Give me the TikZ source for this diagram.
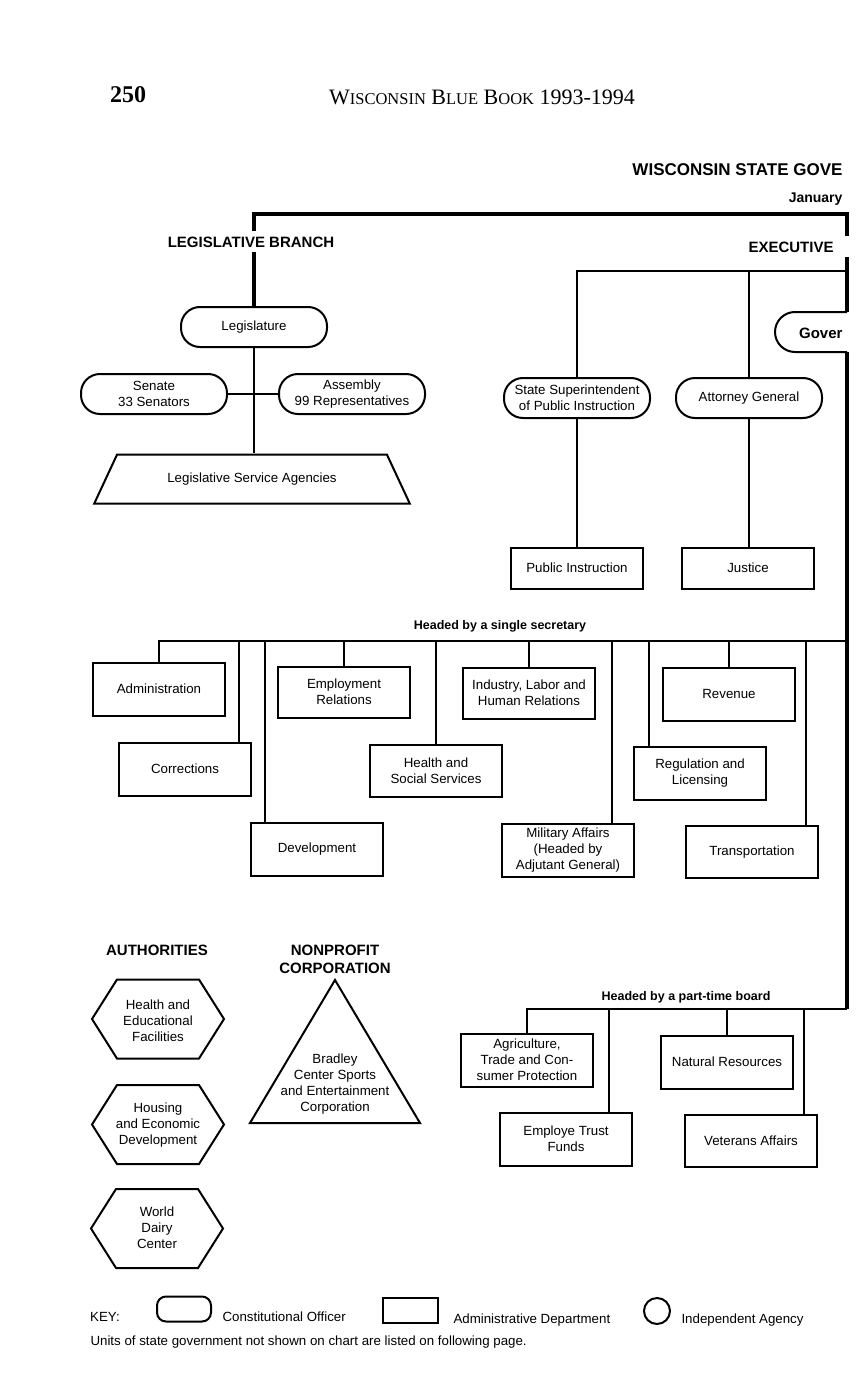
\documentclass[tikz,border=0pt]{standalone}
\usepackage{fontspec}
\setmainfont{Liberation Sans}
\newfontfamily\bookserif{Liberation Serif}
\usetikzlibrary{shapes.geometric}

\newcommand{\bbsc}[1]{{\fontsize{16.5}{16.5}\selectfont #1}}

\tikzset{
	office/.style={draw, line width=2pt, rounded corners=19pt, minimum width=146pt, minimum height=40pt, inner sep=2pt, align=center},
	dept/.style={draw, line width=2pt, minimum width=132pt, minimum height=53pt, inner sep=2pt, align=center},
	shapeline/.style={line width=2pt, line join=miter},
	link/.style={line width=1.8pt},
	trunk/.style={line width=4pt},
	heading/.style={font=\bfseries\fontsize{15}{18}\selectfont, align=center},
	busnote/.style={font=\bfseries\fontsize{12.5}{15}\selectfont},
	inside/.style={align=center},
	keytext/.style={anchor=west, font=\fontsize{13.3}{15}\selectfont}
}

\begin{document}
\begin{tikzpicture}[x=1pt, y=-1pt, font=\fontsize{13.3}{16}\selectfont]
	\useasboundingbox (0,0) rectangle (859,1380);

	% page head
	\node[font=\bookserif\bfseries\fontsize{24}{24}\selectfont] (pageno) at (128,95) {250};
	\node[font=\bookserif\fontsize{22}{22}\selectfont] (booktitle) at (482,97) {W\bbsc{ISCONSIN} B\bbsc{LUE} B\bbsc{OOK} 1993-1994};
	\node[anchor=east, font=\bfseries\fontsize{17}{20}\selectfont] (charttitle) at (846,170) {WISCONSIN STATE GOVE};
	\node[anchor=east, font=\bfseries\fontsize{14}{17}\selectfont] (chartdate) at (846,199) {January};

	\node[heading] (legbranch) at (251,242) {LEGISLATIVE BRANCH};
	\node[heading] (execbranch) at (791,247) {EXECUTIVE};

	% legislative branch
	\node[office] (legis) at (254,327) {Legislature};
	\node[office] (senate) at (154,394) {Senate\\33 Senators};
	\node[office] (assembly) at (352,394) {Assembly\\99 Representatives};
	\node[draw, line width=2pt, trapezium, trapezium angle=52, trapezium stretches=true, minimum width=316pt, minimum height=49pt] (lsa) at (252,479) {Legislative Service Agencies};

	\draw[link] (senate.east) -- (assembly.west);
	\draw[link] (legis.south) -- (legis.south |- lsa.north);

	% trunk
	\coordinate (legtop) at (254,214);
	\coordinate (exectop) at (847,214);
	\coordinate (execjoin) at (847,271);
	\coordinate (govtop) at (847,312);
	\coordinate (govbot) at (847,352);
	\coordinate (ssjoin) at (847,641);
	\coordinate (ptjoin) at (847,1009);

	\draw[trunk] (legis.north) -- (254,252);
	\draw[trunk] (254,231) -- (legtop) -- (exectop) -- (847,236);
	\draw[trunk] (847,257) -- (govtop);
	\draw[trunk] (govbot) -- (ptjoin);

	% executive branch
	\node[anchor=east, font=\bfseries\fontsize{15}{18}\selectfont] (gov) at (846,333) {Gover};
	\draw[shapeline, rounded corners=20pt] (govtop) -- (775,312) -- (775,352) -- (govbot);

	\node[office] (supt) at (577,398) {State Superintendent\\of Public Instruction};
	\node[office] (ag) at (749,398) {Attorney General};
	\node[dept, minimum height=41pt] (pubinst) at (577,568) {Public Instruction};
	\node[dept, minimum height=41pt] (justice) at (748,568) {Justice};

	\draw[link] (execjoin) -| (supt.north);
	\draw[link] (ag.north) -- (ag.north |- execjoin);
	\draw[link] (supt.south) -- (supt.south |- pubinst.north);
	\draw[link] (ag.south) -- (ag.south |- justice.north);

	% headed by a single secretary
	\node[busnote] (sslabel) at (500,626) {Headed by a single secretary};

	\node[dept] (admin) at (159,689) {Administration};
	\node[dept] (corr) at (185,769) {Corrections};
	\node[dept] (devel) at (317,849) {Development};
	\node[dept, minimum height=51pt] (emprel) at (344,692) {Employment\\Relations};
	\node[dept, minimum height=52pt] (hss) at (436,771) {Health and\\Social Services};
	\node[dept, minimum height=51pt] (ilhr) at (529,693) {Industry, Labor and\\Human Relations};
	\node[dept] (milaff) at (568,850) {Military Affairs\\(Headed by\\Adjutant General)};
	\node[dept] (reglic) at (700,773) {Regulation and\\Licensing};
	\node[dept] (revenue) at (729,694) {Revenue};
	\node[dept, minimum height=52pt] (transp) at (752,852) {Transportation};

	\draw[link] (admin.north) |- (ssjoin);
	\draw[link] ([xshift=54pt]corr.north) |- (ssjoin);
	\draw[link] ([xshift=-52pt]devel.north) |- (ssjoin);
	\draw[link] (emprel.north) |- (ssjoin);
	\draw[link] (hss.north) |- (ssjoin);
	\draw[link] (ilhr.north) |- (ssjoin);
	\draw[link] ([xshift=44pt]milaff.north) |- (ssjoin);
	\draw[link] ([xshift=-51pt]reglic.north) |- (ssjoin);
	\draw[link] (revenue.north) |- (ssjoin);
	\draw[link] ([xshift=54pt]transp.north) |- (ssjoin);

	% headed by a part-time board
	\node[busnote] (ptlabel) at (686,997) {Headed by a part-time board};

	\node[dept] (agric) at (527,1060) {Agriculture,\\Trade and Con-\\sumer Protection};
	\node[dept] (etf) at (566,1139) {Employe Trust\\Funds};
	\node[dept] (natres) at (727,1062) {Natural Resources};
	\node[dept, minimum height=52pt] (vets) at (751,1141) {Veterans Affairs};

	\draw[link] (agric.north) |- (ptjoin);
	\draw[link] ([xshift=43pt]etf.north) |- (ptjoin);
	\draw[link] (natres.north) |- (ptjoin);
	\draw[link] ([xshift=53pt]vets.north) |- (ptjoin);

	% authorities
	\node[heading] (authlabel) at (157,950) {AUTHORITIES};
	\node[inside] (hefa) at (158,1021) {Health and\\Educational\\Facilities};
	\node[inside] (hed) at (158,1125) {Housing\\and Economic\\Development};
	\node[inside] (wdc) at (157,1228) {World\\Dairy\\Center};
	\draw[shapeline] (92,1019) -- ++(25,-39.5) -- ++(82,0) -- ++(25,39.5) -- ++(-25,39.5) -- ++(-82,0) -- cycle;
	\draw[shapeline] (92,1124.5) -- ++(25,-39.5) -- ++(82,0) -- ++(25,39.5) -- ++(-25,39.5) -- ++(-82,0) -- cycle;
	\draw[shapeline] (91,1228.5) -- ++(25,-39.5) -- ++(82,0) -- ++(25,39.5) -- ++(-25,39.5) -- ++(-82,0) -- cycle;

	% nonprofit corporation
	\node[heading] (nplabel) at (335,959) {NONPROFIT\\CORPORATION};
	\node[inside] (bradley) at (335,1084) {Bradley\\Center Sports\\and Entertainment\\Corporation};
	\draw[shapeline] (335,980) -- (420,1123) -- (250,1123) -- cycle;

	% key
	\node[keytext, anchor=center] (keylbl) at (105,1317) {KEY:};
	\node[draw, line width=2pt, rounded corners=9pt, minimum width=54pt, minimum height=25pt] (keyoffice) at (184,1309) {};
	\node[keytext] (keyofficetxt) at (219,1317) {Constitutional Officer};
	\node[draw, line width=2pt, minimum width=55pt, minimum height=25pt] (keydept) at (410,1310) {};
	\node[keytext] (keydepttxt) at (450,1320) {Administrative Department};
	\node[draw, line width=2pt, circle, minimum size=26pt] (keyagency) at (657,1311) {};
	\node[keytext] (keyagencytxt) at (678,1320) {Independent Agency};
	\node[keytext] (footnote) at (87,1342) {Units of state government not shown on chart are listed on following page.};
\end{tikzpicture}
\end{document}
